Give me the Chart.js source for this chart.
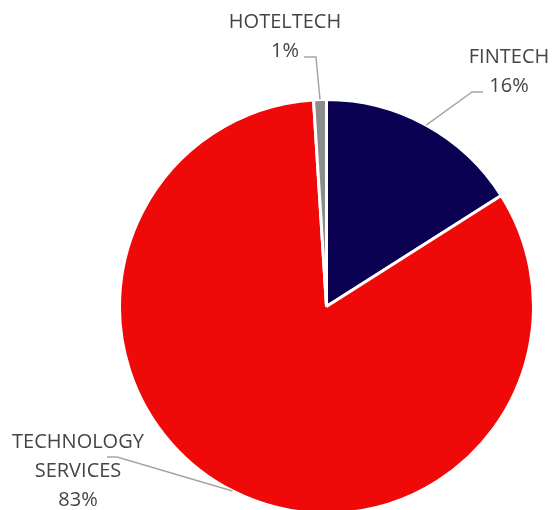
<!DOCTYPE html>
<html>
<head>
<meta charset="utf-8">
<script src="https://cdn.jsdelivr.net/npm/chart.js@4/dist/chart.umd.min.js"></script>
<style>
  html, body { margin: 0; padding: 0; background: #fff; }
  #wrap { width: 552px; height: 510px; overflow: hidden; position: relative; }
</style>
</head>
<body>
<div id="wrap"><canvas id="pieChart" width="552" height="516"></canvas></div>
<script>
const categories = ['FINTECH', 'TECHNOLOGY SERVICES', 'HOTELTECH'];
const shares = [16, 83, 1];
const colors = ['#0b0152', '#ef0909', '#8c8c8c'];

// label text lines, where the text sits and where the leader bends
const labelLines = [['FINTECH', '16%'], ['TECHNOLOGY', 'SERVICES', '83%'], ['HOTELTECH', '1%']];
const labelAnchors = [[509, 63], [78, 448], [285, 28]];
const leaderElbows = [[[472, 92], [483, 92]], [[117, 457], [107, 457]], [[316, 57], [304, 57]]];

const leaderLabels = {
  id: 'leaderLabels',
  afterDraw(chart) {
    const ctx = chart.ctx;
    const arcs = chart.getDatasetMeta(0).data;
    ctx.save();
    arcs.forEach((arc, i) => {
      const mid = (arc.startAngle + arc.endAngle) / 2;
      const sx = arc.x + Math.cos(mid) * arc.outerRadius;
      const sy = arc.y + Math.sin(mid) * arc.outerRadius;
      ctx.strokeStyle = '#a6a6a6';
      ctx.lineWidth = 1.5;
      ctx.beginPath();
      ctx.moveTo(sx, sy);
      leaderElbows[i].forEach(p => ctx.lineTo(p[0], p[1]));
      ctx.stroke();

      ctx.fillStyle = '#454545';
      ctx.font = '20px "Open Sans", sans-serif';
      ctx.textAlign = 'center';
      ctx.textBaseline = 'alphabetic';
      labelLines[i].forEach((t, k) => {
        ctx.fillText(t, labelAnchors[i][0], labelAnchors[i][1] + k * 29);
      });
    });
    ctx.restore();
  }
};

new Chart(document.getElementById('pieChart'), {
  type: 'pie',
  data: {
    labels: categories,
    datasets: [{
      data: shares,
      backgroundColor: colors,
      borderColor: '#ffffff',
      borderWidth: 3
    }]
  },
  options: {
    responsive: false,
    animation: false,
    layout: { padding: { left: 118, top: 98, right: 17, bottom: 1 } },
    plugins: {
      legend: { display: false },
      tooltip: { enabled: false }
    }
  },
  plugins: [leaderLabels]
});
</script>
</body>
</html>
